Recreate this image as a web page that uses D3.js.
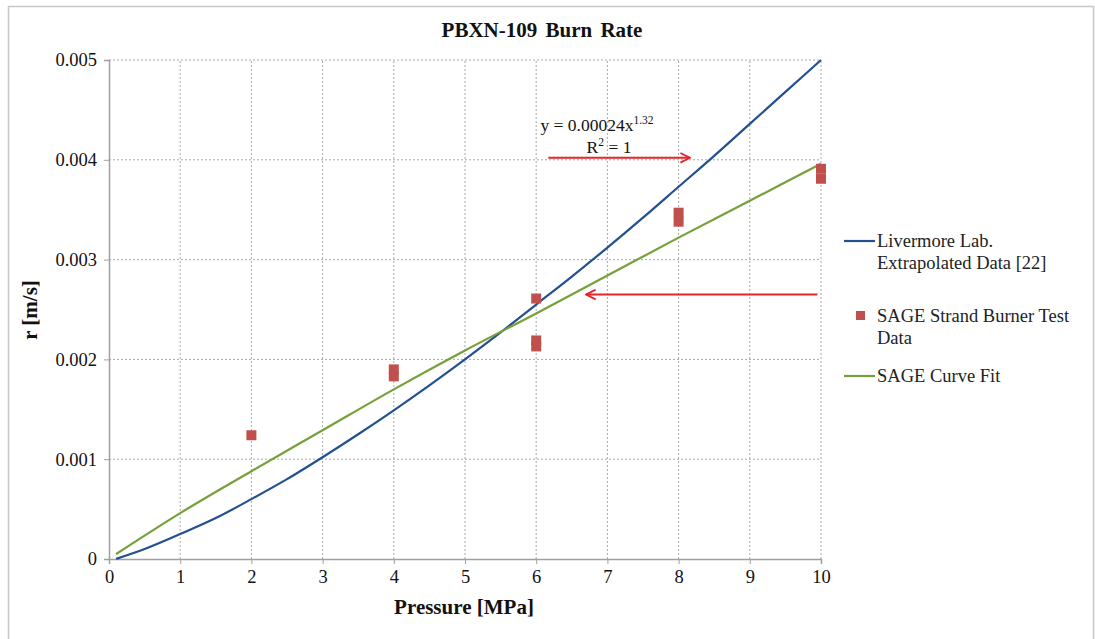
<!DOCTYPE html>
<html>
<head>
<meta charset="utf-8">
<script src="https://cdn.jsdelivr.net/npm/d3@7"></script>
<style>
body { margin: 0; background: #fff; }
text { font-family: "Liberation Serif", "Times New Roman", serif; }
</style>
</head>
<body>
<script>
var Width = 1095;
var Height = 639;

// Livermore extrapolated data
var livermoreX = [0.1, 0.5, 1, 1.5, 2, 2.5, 3, 3.5, 4, 4.5, 5, 5.5, 6, 6.5, 7, 7.5, 8, 8.5, 9, 9.5, 10];
var livermoreY = [0.000001, 0.0001, 0.00025, 0.00041, 0.0006, 0.0008, 0.00102, 0.00125, 0.00149, 0.00174, 0.002, 0.00227, 0.00255, 0.00283, 0.00312, 0.00342, 0.00373, 0.00404, 0.00436, 0.00468, 0.005];

// SAGE strand burner test data
var testX = [2, 4, 4, 6, 6, 6, 8, 8, 10, 10];
var testY = [0.00124, 0.0019, 0.00183, 0.00261, 0.00219, 0.00213, 0.00347, 0.00338, 0.00391, 0.00381];

// SAGE curve fit
var fitX = [0.1, 1, 2, 3, 4, 5, 6, 7, 8, 9, 10];
var fitY = [0.00005, 0.00046, 0.00088, 0.00129, 0.0017, 0.00209, 0.00246, 0.00284, 0.00322, 0.00359, 0.00396];

var xTicks = [0, 1, 2, 3, 4, 5, 6, 7, 8, 9, 10];
var yTicks = [0, 0.001, 0.002, 0.003, 0.004, 0.005];

var legendLabels = [["Livermore Lab.", "Extrapolated Data [22]"], ["SAGE Strand Burner Test", "Data"], ["SAGE Curve Fit"]];

var blue = "#23508f";
var green = "#76a03a";
var red = "#c0504d";

var svg = d3.select("body").append("svg")
	.attr("width", Width)
	.attr("height", Height);

// outer chart border
svg.append("rect")
	.attr("x", 8.5).attr("y", 6.5)
	.attr("width", 1085).attr("height", 640)
	.attr("fill", "none")
	.attr("stroke", "#c8c8c8")
	.attr("stroke-width", 1.5);

var x = d3.scaleLinear().domain([0, 10]).range([109, 821]);
var y = d3.scaleLinear().domain([0, 0.005]).range([559, 60]);

// gridlines
var grid = svg.append("g");
grid.selectAll("line.v").data(xTicks.slice(1)).enter().append("line")
	.attr("x1", d => x(d)).attr("x2", d => x(d))
	.attr("y1", y(0)).attr("y2", y(0.005))
	.attr("stroke", "#a8a8a8").attr("stroke-dasharray", "2,2");
grid.selectAll("line.h").data(yTicks.slice(1)).enter().append("line")
	.attr("x1", x(0)).attr("x2", x(10))
	.attr("y1", d => y(d)).attr("y2", d => y(d))
	.attr("stroke", "#a8a8a8").attr("stroke-dasharray", "2,2");

// axes
var xAxis = svg.append("g")
	.attr("transform", "translate(0," + y(0) + ")")
	.call(d3.axisBottom(x).tickValues(xTicks).tickSize(5).tickPadding(6).tickFormat(d3.format("d")));
var yAxis = svg.append("g")
	.attr("transform", "translate(" + x(0) + ",0)")
	.call(d3.axisLeft(y).tickValues(yTicks).tickSize(5).tickPadding(7).tickFormat(d => d === 0 ? "0" : d3.format(".3f")(d)));
[xAxis, yAxis].forEach(function (a) {
	a.select(".domain").attr("stroke", "#a0a0a0").attr("stroke-width", 1.5);
	a.selectAll(".tick line").attr("stroke", "#a0a0a0");
	a.selectAll(".tick text").attr("font-family", "Liberation Serif").attr("font-size", 18.5).attr("fill", "#111");
});

// lines
var line = d3.line().x(d => x(d[0])).y(d => y(d[1])).curve(d3.curveMonotoneX);
svg.append("path")
	.datum(livermoreX.map((v, i) => [v, livermoreY[i]]))
	.attr("d", line)
	.attr("fill", "none").attr("stroke", blue).attr("stroke-width", 2.2);
svg.append("path")
	.datum(fitX.map((v, i) => [v, fitY[i]]))
	.attr("d", line)
	.attr("fill", "none").attr("stroke", green).attr("stroke-width", 2.2);

// test data markers
svg.selectAll("rect.pt").data(testX.map((v, i) => [v, testY[i]])).enter().append("rect")
	.attr("x", d => x(d[0]) - 5).attr("y", d => y(d[1]) - 5)
	.attr("width", 10).attr("height", 10)
	.attr("fill", red);

// arrows
var defs = svg.append("defs");
defs.append("marker")
	.attr("id", "arr").attr("viewBox", "0 0 10 10")
	.attr("refX", 9).attr("refY", 5)
	.attr("markerWidth", 6).attr("markerHeight", 6)
	.attr("orient", "auto-start-reverse")
	.append("path").attr("d", "M1,1 L9,5 L1,9").attr("fill", "none").attr("stroke", "#e8262a").attr("stroke-width", 1.6);
svg.append("line")
	.attr("x1", x(6.17)).attr("x2", x(8.16))
	.attr("y1", y(0.00402)).attr("y2", y(0.00402))
	.attr("stroke", "#e8262a").attr("stroke-width", 2).attr("marker-end", "url(#arr)");
svg.append("line")
	.attr("x1", x(9.95)).attr("x2", x(6.7))
	.attr("y1", y(0.00265)).attr("y2", y(0.00265))
	.attr("stroke", "#e8262a").attr("stroke-width", 2).attr("marker-end", "url(#arr)");

// equation
var eq = svg.append("text").attr("x", 597).attr("y", 131).attr("text-anchor", "middle")
	.attr("font-size", 17.5).attr("fill", "#111");
eq.append("tspan").text("y = 0.00024x");
eq.append("tspan").attr("dy", -7).attr("font-size", 11.5).text("1.32");
var r2 = svg.append("text").attr("x", 609).attr("y", 153).attr("text-anchor", "middle")
	.attr("font-size", 17.5).attr("fill", "#111");
r2.append("tspan").text("R");
r2.append("tspan").attr("dy", -7).attr("font-size", 11.5).text("2");
r2.append("tspan").attr("dy", 7).text(" = 1");

// title and axis labels
svg.append("text").attr("x", 542).attr("y", 37).attr("text-anchor", "middle")
	.attr("font-size", 21).attr("font-weight", "bold").attr("word-spacing", 3).attr("fill", "#111")
	.text("PBXN-109 Burn Rate");
svg.append("text").attr("x", 464).attr("y", 614).attr("text-anchor", "middle")
	.attr("font-size", 21).attr("font-weight", "bold").attr("fill", "#111")
	.text("Pressure [MPa]");
svg.append("text").attr("transform", "translate(37,310) rotate(-90)").attr("text-anchor", "middle")
	.attr("font-size", 21).attr("font-weight", "bold").attr("fill", "#111")
	.text("r [m/s]");

// legend
var legY = [241, 316, 376];
var leg = svg.append("g");
legendLabels.forEach(function (lab, i) {
	if (i === 1) {
		leg.append("rect").attr("x", 856).attr("y", legY[i] - 5).attr("width", 9).attr("height", 9).attr("fill", red);
	} else {
		leg.append("line").attr("x1", 844).attr("x2", 875).attr("y1", legY[i]).attr("y2", legY[i])
			.attr("stroke", i === 0 ? blue : green).attr("stroke-width", 2.2);
	}
	lab.forEach(function (t, j) {
		leg.append("text").attr("x", 877).attr("y", legY[i] + 6 + j * 22)
			.attr("font-size", 18.5).attr("fill", "#222").text(t);
	});
});
</script>
</body>
</html>
